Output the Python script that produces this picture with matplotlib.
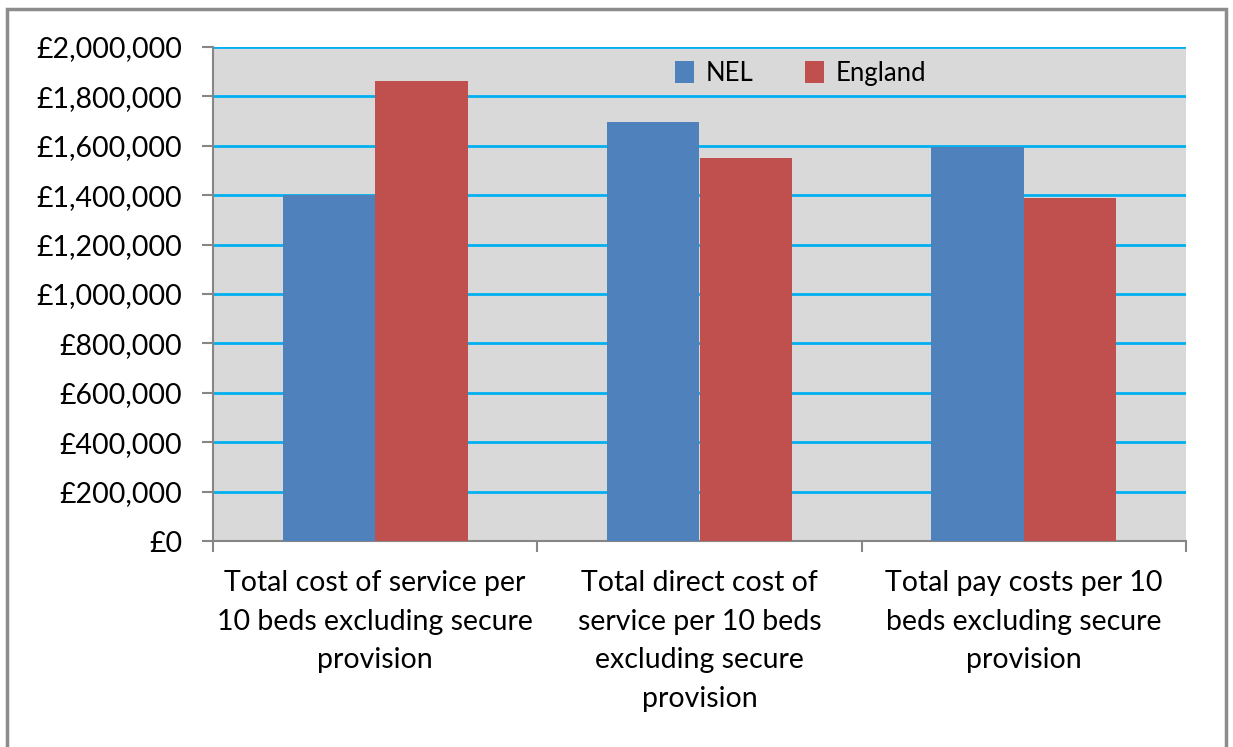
import numpy as np
import matplotlib.pyplot as plt
from matplotlib.patches import Rectangle
from matplotlib.ticker import FuncFormatter

categories = ['Total cost of service per\n10 beds excluding secure\nprovision',
              'Total direct cost of\nservice per 10 beds\nexcluding secure\nprovision',
              'Total pay costs per 10\nbeds excluding secure\nprovision']
nel = [1400000, 1697000, 1597000]
england = [1862000, 1552000, 1387000]

plt.rcParams['font.family'] = ['Lato', 'DejaVu Sans']

fig = plt.figure(figsize=(12.33, 7.47), dpi=100)
ax = fig.add_axes([213 / 1233, 1 - 541 / 747, 973 / 1233, 494 / 747])

# outer chart border (bottom edge lies off the picture)
fig.patches.append(Rectangle((7 / 1233, -0.05), 1219 / 1233, 1.05 - 9 / 747,
                             transform=fig.transFigure, fill=False,
                             edgecolor='#8C8C8C', linewidth=2.5))

x = np.arange(len(categories))
w = 1 / 3.5
ax.bar(x - w / 2, nel, w, color='#4F81BD', label='NEL', zorder=3)
ax.bar(x + w / 2, england, w, color='#C0504D', label='England', zorder=3)

ax.set_facecolor('#D9D9D9')
ax.set_xlim(-0.5, 2.5)
ax.set_ylim(0, 2000000)
ax.set_yticks(np.arange(0, 2000001, 200000))
ax.yaxis.set_major_formatter(FuncFormatter(lambda v, p: f'£{v:,.0f}'))
ax.grid(axis='y', color='#00B0F0', linewidth=2, zorder=1)
ax.set_axisbelow(True)

ax.set_xticks([-0.5, 0.5, 1.5, 2.5])
ax.set_xticklabels([])
ax.set_xticks(x, minor=True)
ax.set_xticklabels(categories, minor=True, fontsize=20.5, linespacing=1.6)
ax.tick_params(axis='x', which='minor', length=0, pad=21)
ax.tick_params(axis='x', which='major', length=8, width=1.5, color='#868686', direction='out')
ax.tick_params(axis='y', length=8, width=1.5, color='#868686', labelsize=20.5, pad=14)

for s in ['top', 'right']:
    ax.spines[s].set_visible(False)
for s in ['left', 'bottom']:
    ax.spines[s].set_color('#868686')
    ax.spines[s].set_linewidth(1.5)

ax.legend(loc='upper center', bbox_to_anchor=(0.604, 1.018), ncol=2, frameon=False,
          fontsize=18.5, handlelength=0.75, handleheight=0.95, columnspacing=2.0,
          handletextpad=0.45)

fig.savefig('out.png', dpi=100)
